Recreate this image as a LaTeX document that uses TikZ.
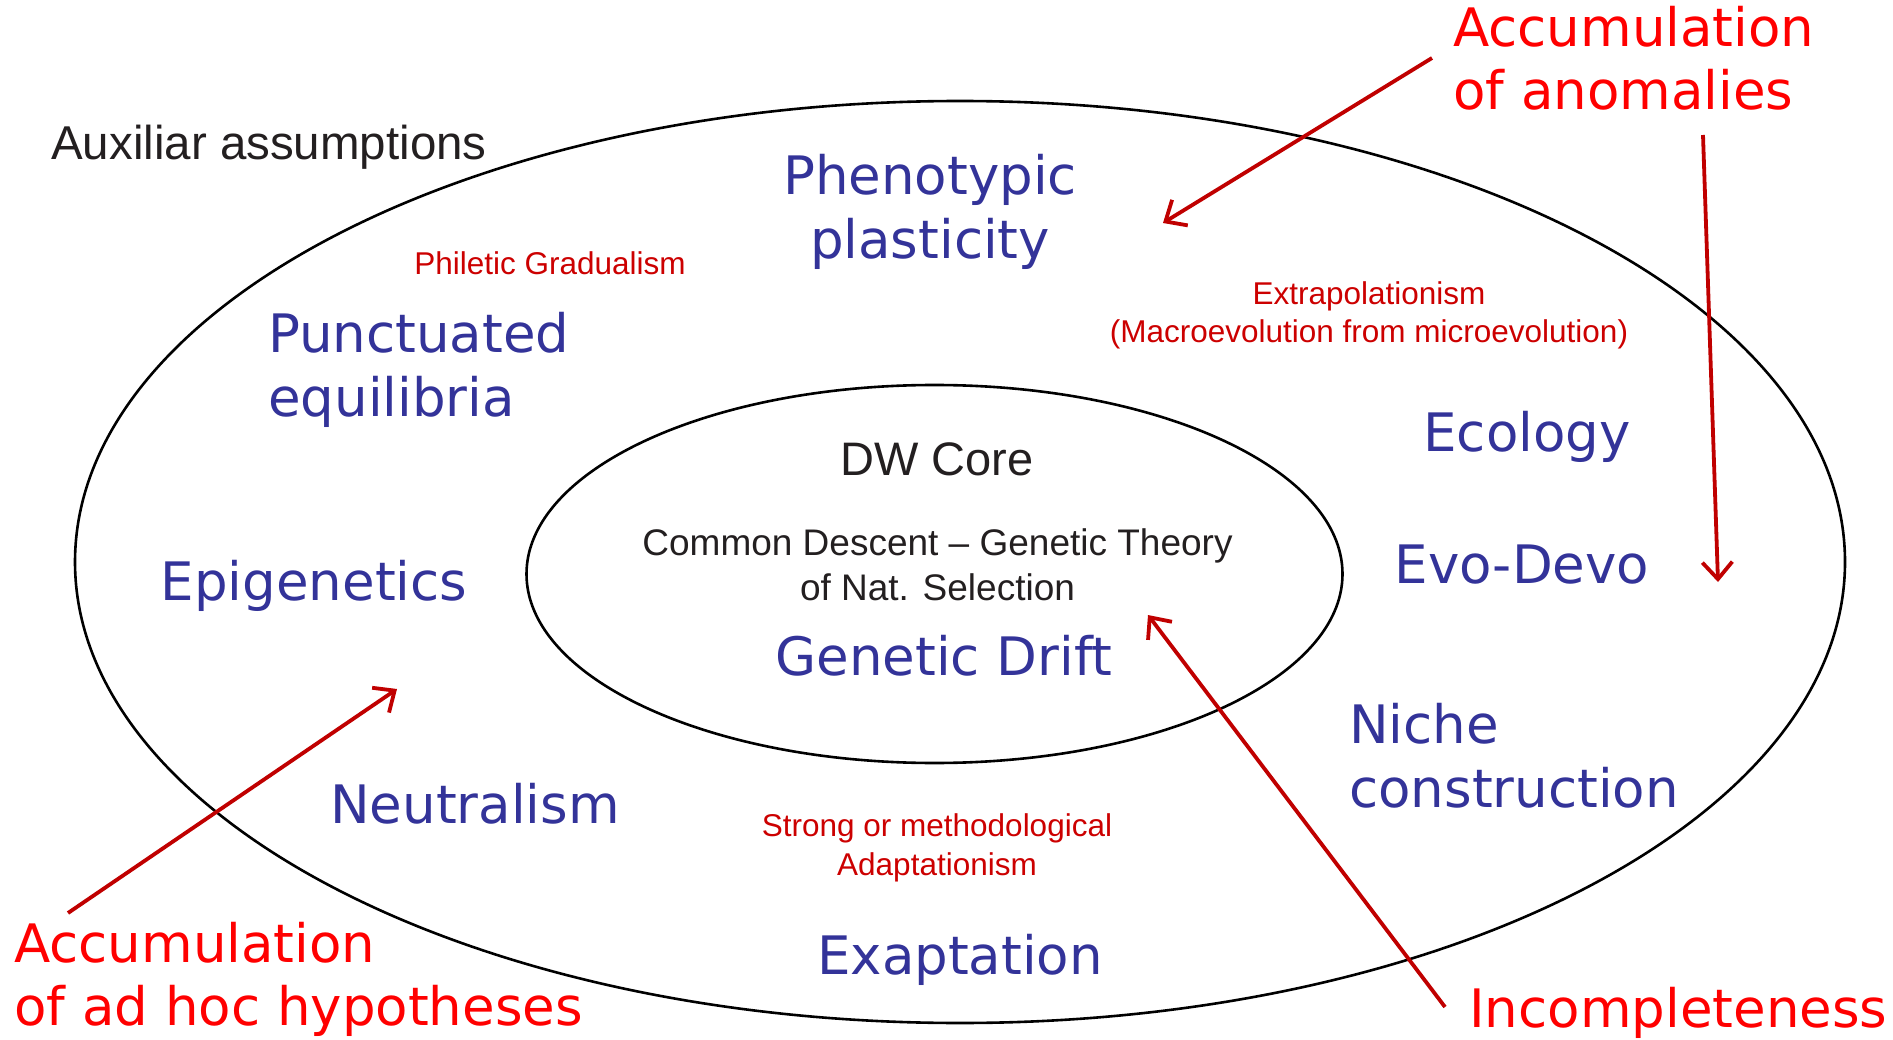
\documentclass[tikz,border=0pt]{standalone}
\usepackage{fontspec}
\setmainfont{Liberation Sans}
\newfontfamily\widefont{DejaVu Sans}
\usetikzlibrary{arrows.meta}

\definecolor{termblue}{HTML}{333399}
\definecolor{notered}{HTML}{CC0000}
\definecolor{callred}{HTML}{FF0000}
\definecolor{arrowred}{HTML}{C00000}
\definecolor{inkblack}{HTML}{231F20}

\tikzset{
  term/.style={inner sep=0pt, text=termblue, align=left,
    font=\widefont\fontsize{53}{64}\selectfont},
  note/.style={inner sep=0pt, text=notered, align=center,
    font=\fontsize{31.5}{38.5}\selectfont},
  callout/.style={inner sep=0pt, text=callred, align=left,
    font=\widefont\fontsize{53}{63}\selectfont},
  plain/.style={inner sep=0pt, text=inkblack, align=center},
  ring/.style={draw=black, line width=2.6pt},
  push/.style={draw=arrowred, line width=3.8pt,
    -{Straight Barb[length=17pt, width=30pt, line width=3.8pt]}}
}

\begin{document}
\begin{tikzpicture}[x=1pt, y=-1pt]
\useasboundingbox (0,0) rectangle (1893,1040);

% belt of auxiliary assumptions and the hard core
\draw[ring] (960,562) ellipse [x radius=885, y radius=461];
\draw[ring] (934.5,574) ellipse [x radius=408, y radius=189];

% multi-line nodes are placed by the baseline of their last line
\node[plain, anchor=base west, font=\fontsize{47.5}{56}\selectfont]
  (aux) at (51,160) {Auxiliar assumptions};

% core
\node[plain, anchor=base, font=\fontsize{47}{56}\selectfont]
  (core) at (937,475) {DW Core};
\node[plain, anchor=base, font=\fontsize{37}{45}\selectfont]
  (desc) at (937.5,600) {Common Descent -- Genetic Theory\\of Nat. Selection};
\node[term, anchor=base] (drift) at (944,675) {Genetic Drift};

% belt terms
\node[term, anchor=base, align=center] (pheno) at (930,259) {Phenotypic\\plasticity};
\node[term, anchor=base west] (punct) at (268,417) {Punctuated\\equilibria};
\node[term, anchor=base] (epi) at (314,600) {Epigenetics};
\node[term, anchor=base] (eco) at (1527,451) {Ecology};
\node[term, anchor=base] (evo) at (1522,583) {Evo-Devo};
\node[term, anchor=base west] (niche) at (1349,807) {Niche\\construction};
\node[term, anchor=base west] (neut) at (330,823) {Neutralism};
\node[term, anchor=base] (exap) at (960,974) {Exaptation};

% contested auxiliary notes
\node[note, anchor=base] (phil) at (550,275) {Philetic Gradualism};
\node[note, anchor=base] (extra) at (1369,343)
  {Extrapolationism\\(Macroevolution from microevolution)};
\node[note, anchor=base] (adapt) at (937,875)
  {Strong or methodological\\Adaptationism};

% pressures on the programme
\node[callout, anchor=base west] (anom) at (1453,110) {Accumulation\\of anomalies};
\node[callout, anchor=base west] (adhoc) at (14,1025) {Accumulation\\of ad hoc hypotheses};
\node[callout, anchor=base west] (incomp) at (1469,1027) {Incompleteness};

\coordinate (a1s) at (1432,58);   \coordinate (a1t) at (1163,223);
\coordinate (a2s) at (1703,135);  \coordinate (a2t) at (1718,582);
\coordinate (a3s) at (68,913);    \coordinate (a3t) at (397,689);
\coordinate (a4s) at (1445,1007); \coordinate (a4t) at (1148,615);

\draw[push] (a1s) -- (a1t);
\draw[push] (a2s) -- (a2t);
\draw[push] (a3s) -- (a3t);
\draw[push] (a4s) -- (a4t);
\end{tikzpicture}
\end{document}
